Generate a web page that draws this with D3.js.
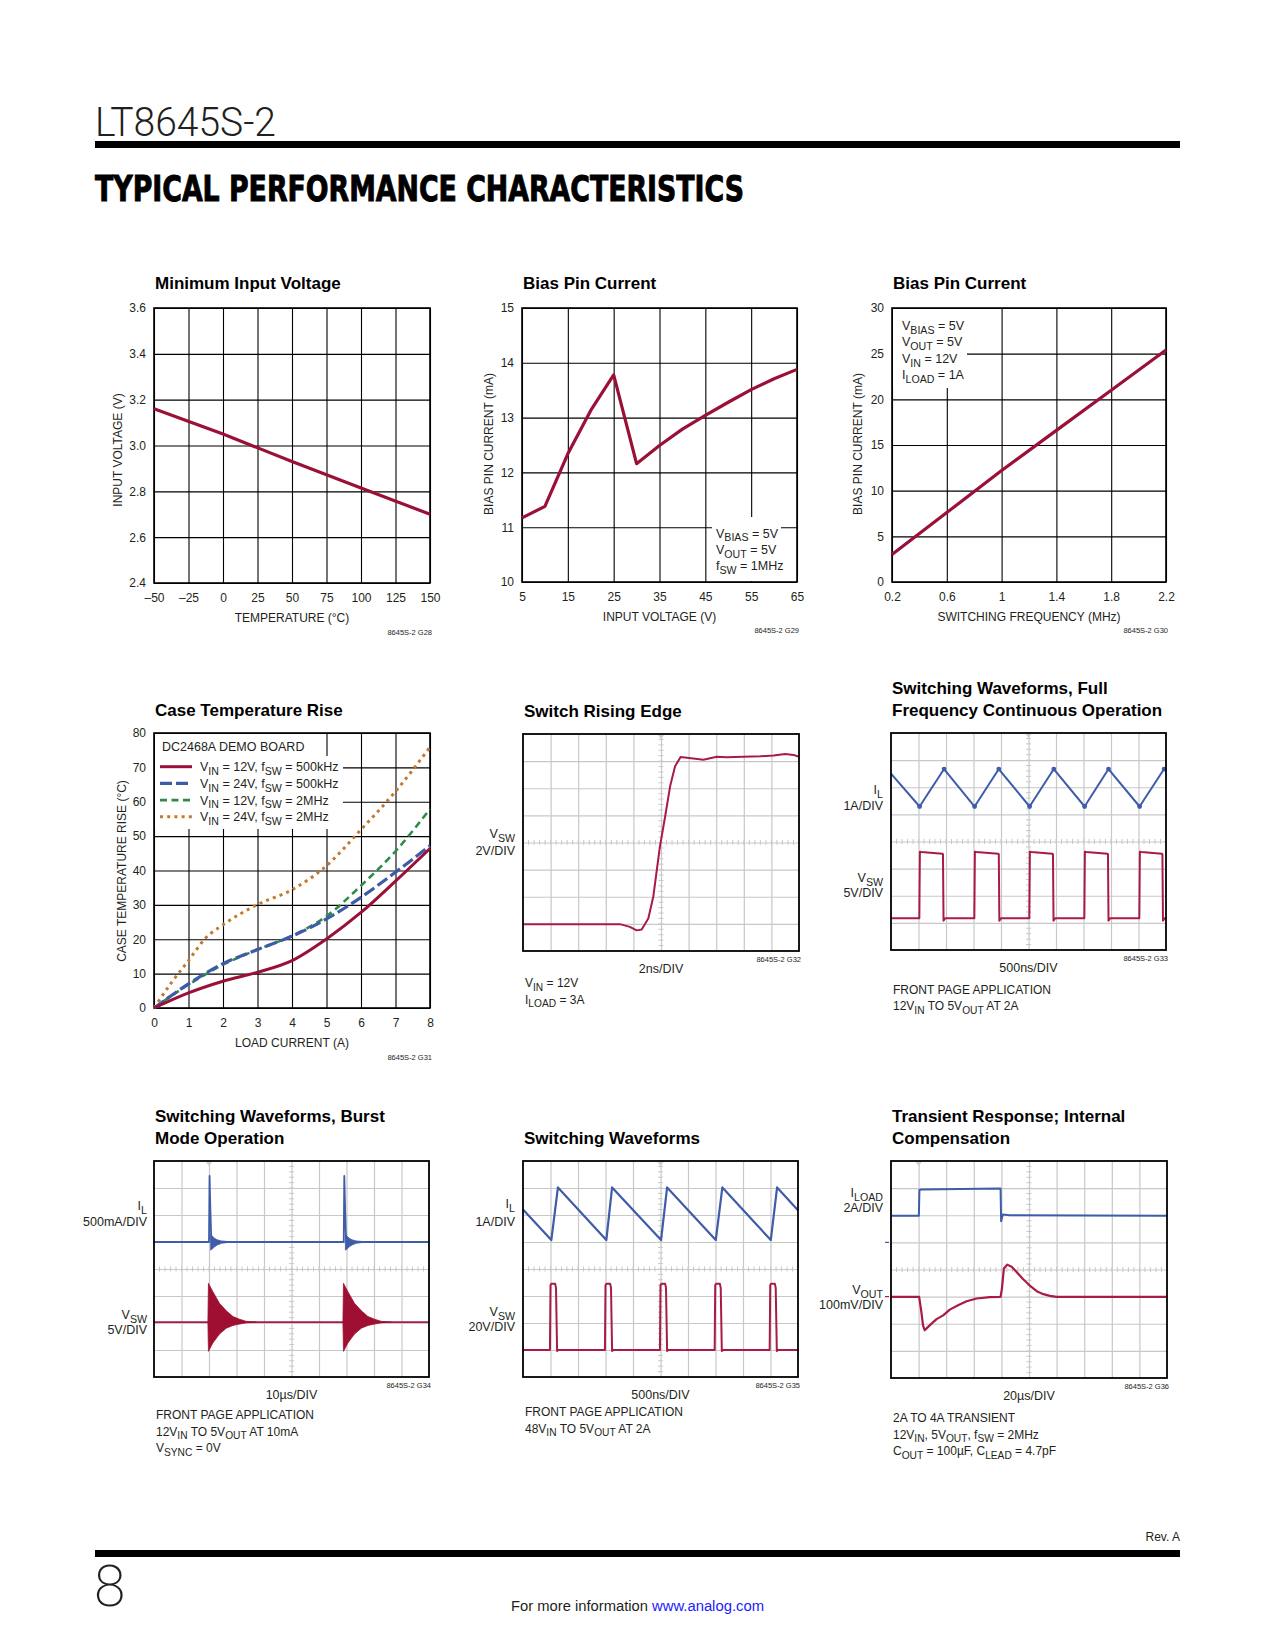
<!DOCTYPE html>
<html><head><meta charset="utf-8">
<script src="https://cdn.jsdelivr.net/npm/d3@7"></script>
<style>body{margin:0;background:#fff}svg{display:block}</style>
</head><body>
<script>
// ================= DATA =================
// Chart 1: Minimum Input Voltage
const c1TempC = [-50, 0, 50, 100, 150];
const c1MinVin = [3.16, 3.05, 2.93, 2.815, 2.70];
const c1XTicks = [-50, -25, 0, 25, 50, 75, 100, 125, 150];
const c1YTicks = [2.4, 2.6, 2.8, 3.0, 3.2, 3.4, 3.6];
// Chart 2: Bias Pin Current vs input voltage
const c2Vin = [5, 10, 15, 20, 25, 30, 35, 40, 45, 50, 55, 60, 65];
const c2Ibias = [11.17, 11.38, 12.34, 13.13, 13.78, 12.16, 12.49, 12.79, 13.04, 13.28, 13.51, 13.71, 13.88];
const c2XTicks = [5, 15, 25, 35, 45, 55, 65];
const c2YTicks = [10, 11, 12, 13, 14, 15];
const c2Notes = ["V_{BIAS} = 5V", "V_{OUT} = 5V", "f_{SW} = 1MHz"];
// Chart 3: Bias Pin Current vs switching frequency
const c3Fsw = [0.2, 0.6, 1.0, 1.4, 1.8, 2.2];
const c3Ibias = [3.0, 7.6, 12.2, 16.6, 21.0, 25.4];
const c3XTicks = [0.2, 0.6, 1, 1.4, 1.8, 2.2];
const c3YTicks = [0, 5, 10, 15, 20, 25, 30];
const c3Notes = ["V_{BIAS} = 5V", "V_{OUT} = 5V", "V_{IN} = 12V", "I_{LOAD} = 1A"];
// Chart 4: Case Temperature Rise
const c4Load = [0, 1, 2, 3, 4, 5, 6, 7, 8];
const c4Red = [0, 4.4, 7.8, 10.4, 13.8, 20.1, 27.8, 36.9, 46.4];
const c4Blue = [0, 7.0, 12.9, 17.0, 20.9, 25.9, 32.2, 39.5, 47.2];
const c4Green = [0, 6.8, 12.6, 17.0, 21.0, 26.7, 35.6, 45.6, 57.9];
const c4LoadOrange = [0, 0.5, 1, 1.5, 2, 3, 4, 5, 6, 7, 8];
const c4Orange = [0, 7.3, 13.8, 20.4, 24.2, 30.1, 34.4, 41.4, 51.9, 63.0, 75.9];
const c4XTicks = [0, 1, 2, 3, 4, 5, 6, 7, 8];
const c4YTicks = [0, 10, 20, 30, 40, 50, 60, 70, 80];
const c4Labels = ["V_{IN} = 12V, f_{SW} = 500kHz", "V_{IN} = 24V, f_{SW} = 500kHz",
                  "V_{IN} = 12V, f_{SW} = 2MHz", "V_{IN} = 24V, f_{SW} = 2MHz"];
// Chart 5: Switch rising edge (divisions)
const c5T = [0, 3.51, 3.87, 4.12, 4.30, 4.54, 4.72, 4.96, 5.15, 5.33, 5.51, 5.71, 6.17, 6.54, 7.02, 7.38, 7.99, 8.6, 9.08, 9.5, 9.8, 10];
const c5V = [0.99, 0.99, 0.89, 0.76, 0.79, 1.20, 2.0, 3.85, 4.96, 6.07, 6.81, 7.15, 7.10, 7.05, 7.16, 7.14, 7.16, 7.18, 7.21, 7.26, 7.23, 7.16];
// Chart 6: full-frequency waveforms (divisions)
const c6IlT = [0, 1.04, 1.93, 3.04, 3.92, 5.04, 5.92, 7.04, 7.91, 9.04, 9.93, 10];
const c6IlV = [6.5, 5.29, 6.67, 5.29, 6.67, 5.29, 6.67, 5.29, 6.67, 5.29, 6.67, 6.59];
const c6SwT = [0, 1.03, 1.05, 1.10, 1.87, 1.89, 1.91, 1.97,
               3.03, 3.05, 3.10, 3.90, 3.92, 3.94, 4.00,
               5.03, 5.05, 5.10, 5.87, 5.89, 5.91, 5.97,
               7.03, 7.05, 7.10, 7.87, 7.89, 7.91, 7.97,
               9.03, 9.05, 9.10, 9.85, 9.87, 9.89, 9.95, 10];
const c6SwV = [1.17, 1.17, 3.62, 3.61, 3.55, 3.53, 1.08, 1.17,
               1.17, 3.62, 3.61, 3.55, 3.53, 1.08, 1.17,
               1.17, 3.62, 3.61, 3.55, 3.53, 1.08, 1.17,
               1.17, 3.62, 3.61, 3.55, 3.53, 1.08, 1.17,
               1.17, 3.62, 3.61, 3.55, 3.53, 1.08, 1.17, 1.17];
// Chart 7: Burst Mode waveforms (divisions)
const c7IlT = [0, 2.0, 2.02, 2.05, 2.08, 2.1, 2.9, 6.9, 6.92, 6.95, 6.98, 7.0, 7.8, 10];
const c7IlV = [5.0, 5.0, 7.45, 6.2, 5.2, 5.0, 5.0, 5.0, 7.45, 6.2, 5.2, 5.0, 5.0, 5.0];
const c7IlBursts = [2.0, 6.9];
const c7IlEnvDt = [0.06, 0.12, 0.2, 0.3, 0.45, 0.65, 0.9];
const c7IlEnvHi = [5.28, 5.22, 5.14, 5.08, 5.04, 5.02, 5.0];
const c7IlEnvLo = [4.70, 4.74, 4.82, 4.89, 4.95, 4.98, 5.0];
const c7SwT = [0, 10];
const c7SwV = [2.03, 2.03];
const c7SwBursts = [1.96, 6.87];
const c7SwEnvDt = [0, 0.02, 0.18, 0.42, 0.67, 0.91, 1.15, 1.4, 1.76];
const c7SwEnvHi = [2.03, 3.47, 3.16, 2.73, 2.45, 2.24, 2.14, 2.06, 2.03];
const c7SwEnvLo = [2.03, 0.95, 1.26, 1.59, 1.81, 1.91, 1.96, 2.01, 2.03];
// Chart 8: Switching waveforms 48V (divisions)
const c8IlT = [0, 1.03, 1.27, 3.03, 3.24, 5.02, 5.24, 7.01, 7.25, 9.01, 9.24, 10];
const c8IlV = [6.2, 5.07, 7.02, 5.07, 7.02, 5.07, 7.02, 5.07, 7.02, 5.07, 7.02, 6.18];
const c8SwT = [0, 0.98, 1.00, 1.03, 1.17, 1.20, 1.24, 1.29,
               2.98, 3.00, 3.03, 3.17, 3.20, 3.24, 3.29,
               4.98, 5.00, 5.03, 5.17, 5.20, 5.24, 5.29,
               6.97, 6.99, 7.02, 7.16, 7.19, 7.23, 7.28,
               8.97, 8.99, 9.02, 9.16, 9.19, 9.23, 9.28, 10];
const c8SwV = [1.0, 1.0, 3.40, 3.45, 3.45, 3.30, 0.96, 1.0,
               1.0, 3.40, 3.45, 3.45, 3.30, 0.96, 1.0,
               1.0, 3.40, 3.45, 3.45, 3.30, 0.96, 1.0,
               1.0, 3.40, 3.45, 3.45, 3.30, 0.96, 1.0,
               1.0, 3.40, 3.45, 3.45, 3.30, 0.96, 1.0, 1.0];
// Chart 9: Transient response (divisions)
const c9IT = [0, 1.01, 1.03, 1.1, 3.95, 3.97, 3.99, 4.05, 4.3, 10];
const c9IV = [5.98, 5.98, 6.93, 6.95, 6.99, 6.99, 5.78, 6.03, 6.0, 5.98];
const c9VT = [0, 1.02, 1.10, 1.16, 1.22, 1.28, 1.40, 1.65, 1.89, 2.13, 2.43, 2.74, 3.10, 3.58, 3.97,
              4.02, 4.09, 4.21, 4.37, 4.55, 4.79, 5.04, 5.28, 5.52, 5.76, 6.0, 10];
const c9VV = [2.99, 2.99, 2.44, 1.94, 1.76, 1.82, 1.94, 2.17, 2.31, 2.52, 2.68, 2.83, 2.93, 2.98, 2.99,
              3.30, 4.04, 4.18, 4.10, 3.91, 3.64, 3.40, 3.20, 3.09, 3.03, 2.99, 2.99];

// ================= DRAWING =================
const F = "'Liberation Sans', Arial, Helvetica, sans-serif";
const RED = '#9b1037', SRED = '#a81c44', SBLUE = '#3e5ca8';
const svg = d3.select('body').append('svg').attr('width', 1275).attr('height', 1650)
  .style('background', '#fff');

function rich(t, s, fs) {
  let pending = 0;
  s.split(/(_\{[^}]*\})/).forEach(p => {
    if (!p) return;
    if (p.startsWith('_{')) {
      t.append('tspan').attr('dy', fs * 0.3 + pending).attr('font-size', fs * 0.85).text(p.slice(2, -1));
      pending = -fs * 0.3;
    } else {
      const ts = t.append('tspan').text(p);
      if (pending) ts.attr('dy', pending);
      pending = 0;
    }
  });
  return t;
}
function txt(x, y, s, o = {}) {
  const fs = o.size || 12;
  const t = svg.append('text').attr('x', x).attr('y', y).attr('font-family', o.family || F)
    .attr('font-size', fs).attr('fill', o.fill || '#231f20')
    .attr('font-weight', o.weight || 400).attr('text-anchor', o.anchor || 'start');
  rich(t, s, fs);
  return t;
}

// ---- page header/footer ----
svg.append('text').attr('x', 95).attr('y', 136).attr('font-family', "Roboto, 'Liberation Sans', sans-serif")
  .attr('font-weight', 300).attr('font-size', 40).attr('textLength', 181).attr('lengthAdjust', 'spacingAndGlyphs')
  .attr('fill', '#231f20').text('LT8645S-2');
svg.append('rect').attr('x', 95).attr('y', 141).attr('width', 1085).attr('height', 7).attr('fill', '#000');
svg.append('text').attr('x', 95).attr('y', 201).attr('font-family', "'DejaVu Sans', 'Liberation Sans', sans-serif")
  .attr('font-weight', 700).attr('font-size', 36).attr('textLength', 649).attr('lengthAdjust', 'spacingAndGlyphs')
  .attr('fill', '#000').attr('stroke', '#000').attr('stroke-width', 1).text('TYPICAL PERFORMANCE CHARACTERISTICS');
txt(1180, 1541, 'Rev. A', {size: 12, anchor: 'end'});
svg.append('rect').attr('x', 95).attr('y', 1550).attr('width', 1085).attr('height', 7).attr('fill', '#000');
svg.append('text').attr('x', 94).attr('y', 1606).attr('font-family', "Roboto, 'Liberation Sans', sans-serif")
  .attr('font-weight', 200).attr('font-size', 57).attr('fill', '#231f20').text('8');
svg.append('text').attr('x', 511).attr('y', 1611).attr('font-family', F).attr('font-size', 15.5)
  .attr('textLength', 137).attr('lengthAdjust', 'spacingAndGlyphs').attr('fill', '#231f20').text('For more information');
svg.append('text').attr('x', 652).attr('y', 1611).attr('font-family', F).attr('font-size', 15.5)
  .attr('textLength', 112).attr('lengthAdjust', 'spacingAndGlyphs').attr('fill', '#1a1aff').text('www.analog.com');

// ---- XY line chart helper ----
function xyChart(c) {
  const g = svg.append('g').attr('transform', `translate(${c.left},${c.top})`);
  const x = d3.scaleLinear().domain(c.xDomain).range([0, c.w]);
  const y = d3.scaleLinear().domain(c.yDomain).range([c.h, 0]);
  const ax = g.append('g').attr('transform', `translate(0,${c.h})`)
    .call(d3.axisBottom(x).tickValues(c.xTicks).tickFormat(c.xFmt).tickSize(-c.h).tickSizeOuter(0).tickPadding(10));
  const ay = g.append('g')
    .call(d3.axisLeft(y).tickValues(c.yTicks).tickFormat(c.yFmt).tickSize(-c.w).tickSizeOuter(0).tickPadding(8));
  [ax, ay].forEach(a => {
    a.attr('font-family', F).attr('font-size', 12);
    a.select('.domain').remove();
    a.selectAll('line').attr('stroke', '#000').attr('stroke-width', 1.1);
    a.selectAll('text').attr('fill', '#231f20');
  });
  (c.boxes || []).forEach(b => g.append('rect').attr('x', b[0] - c.left).attr('y', b[1] - c.top)
    .attr('width', b[2] - b[0]).attr('height', b[3] - b[1]).attr('fill', '#fff'));
  g.append('rect').attr('width', c.w).attr('height', c.h).attr('fill', 'none').attr('stroke', '#000').attr('stroke-width', 1.6);
  txt(c.left + 1, c.titleY, c.title, {size: 17, weight: 700, fill: '#000'});
  txt(c.left + c.w / 2, c.top + c.h + 39, c.xTitle, {size: 12, anchor: 'middle'});
  svg.append('text').attr('transform', `translate(${c.yTitleX},${c.yTitleY}) rotate(-90)`)
    .attr('font-family', F).attr('font-size', 12).attr('fill', '#231f20').attr('text-anchor', 'middle').text(c.yTitle);
  txt(c.left + c.w + 2, c.top + c.h + c.codeDy, c.code, {size: 7.5, anchor: 'end'});
  return {g, x, y};
}
const fmtMinus = d => d < 0 ? '\u2013' + Math.abs(d) : String(d);

// Chart 1
{
  const {g, x, y} = xyChart({left: 154, top: 308, w: 276, h: 275, xDomain: [-50, 150], yDomain: [2.4, 3.6],
    xTicks: c1XTicks, yTicks: c1YTicks, xFmt: fmtMinus, yFmt: d3.format('.1f'),
    title: 'Minimum Input Voltage', titleY: 289, xTitle: 'TEMPERATURE (°C)', yTitle: 'INPUT VOLTAGE (V)',
    yTitleX: 121.5, yTitleY: 450, code: '8645S-2 G28', codeDy: 52});
  g.append('path').datum(c1TempC.map((t, i) => [t, c1MinVin[i]]))
    .attr('d', d3.line().x(d => x(d[0])).y(d => y(d[1]))).attr('fill', 'none').attr('stroke', RED).attr('stroke-width', 3.2);
}
// Chart 2
{
  const {g, x, y} = xyChart({left: 522, top: 308, w: 275, h: 274, xDomain: [5, 65], yDomain: [10, 15],
    xTicks: c2XTicks, yTicks: c2YTicks, xFmt: String, yFmt: String,
    boxes: [[712, 517, 781, 581]],
    title: 'Bias Pin Current', titleY: 289, xTitle: 'INPUT VOLTAGE (V)', yTitle: 'BIAS PIN CURRENT (mA)',
    yTitleX: 493, yTitleY: 444, code: '8645S-2 G29', codeDy: 51});
  g.append('path').datum(c2Vin.map((t, i) => [t, c2Ibias[i]]))
    .attr('d', d3.line().x(d => x(d[0])).y(d => y(d[1]))).attr('fill', 'none').attr('stroke', RED)
    .attr('stroke-width', 3.2).attr('stroke-linejoin', 'round');
  c2Notes.forEach((s, i) => txt(716, 537.5 + i * 16.3, s, {size: 12.5}));
}
// Chart 3
{
  const {g, x, y} = xyChart({left: 892, top: 308, w: 274, h: 274, xDomain: [0.2, 2.2], yDomain: [0, 30],
    xTicks: c3XTicks, yTicks: c3YTicks, xFmt: String, yFmt: String,
    boxes: [[893, 309, 967, 388]],
    title: 'Bias Pin Current', titleY: 289, xTitle: 'SWITCHING FREQUENCY (MHz)', yTitle: 'BIAS PIN CURRENT (mA)',
    yTitleX: 862, yTitleY: 444, code: '8645S-2 G30', codeDy: 51});
  g.append('path').datum(c3Fsw.map((t, i) => [t, c3Ibias[i]]))
    .attr('d', d3.line().x(d => x(d[0])).y(d => y(d[1]))).attr('fill', 'none').attr('stroke', RED).attr('stroke-width', 3.2);
  c3Notes.forEach((s, i) => txt(902, 330 + i * 16.4, s, {size: 12.5}));
}
// Chart 4
{
  const {g, x, y} = xyChart({left: 154, top: 733, w: 276, h: 275, xDomain: [0, 8], yDomain: [0, 80],
    xTicks: c4XTicks, yTicks: c4YTicks, xFmt: String, yFmt: String,
    boxes: [[155, 734, 325, 756], [155, 756, 343, 829]],
    title: 'Case Temperature Rise', titleY: 716, xTitle: 'LOAD CURRENT (A)', yTitle: 'CASE TEMPERATURE RISE (°C)',
    yTitleX: 125.5, yTitleY: 871, code: '8645S-2 G31', codeDy: 52});
  const series = [
    {xs: c4Load, ys: c4Red, color: RED, w: 3, dash: null},
    {xs: c4Load, ys: c4Blue, color: '#3d5ba9', w: 3.2, dash: '12,4'},
    {xs: c4Load, ys: c4Green, color: '#2e8b46', w: 2.6, dash: '7,4.5'},
    {xs: c4LoadOrange, ys: c4Orange, color: '#c4782f', w: 3, dash: '3,4.2'}
  ];
  const line = d3.line().x(d => x(d[0])).y(d => y(d[1])).curve(d3.curveMonotoneX);
  [3, 2, 1, 0].forEach(k => {
    const s = series[k];
    g.append('path').datum(s.xs.map((t, i) => [t, s.ys[i]])).attr('d', line).attr('fill', 'none')
      .attr('stroke', s.color).attr('stroke-width', s.w).attr('stroke-dasharray', s.dash);
  });
  txt(162, 751, 'DC2468A DEMO BOARD', {size: 12.5});
  series.forEach((s, i) => {
    const yy = 766.7 + i * 16.7;
    svg.append('line').attr('x1', 160).attr('x2', 192).attr('y1', yy).attr('y2', yy)
      .attr('stroke', s.color).attr('stroke-width', s.w).attr('stroke-dasharray', s.dash);
    txt(200, yy + 4.5, c4Labels[i], {size: 12.5});
  });
}

// ---- Scope helper ----
function scope(c) {
  const g = svg.append('g').attr('transform', `translate(${c.left},${c.top})`);
  const x = d3.scaleLinear().domain([0, 10]).range([0, c.w]);
  const y = d3.scaleLinear().domain([0, 8]).range([c.h, 0]);
  const gx = g.append('g').attr('transform', `translate(0,${c.h})`)
    .call(d3.axisBottom(x).tickValues(d3.range(1, 10)).tickSize(-c.h).tickSizeOuter(0).tickFormat(''));
  const gy = g.append('g').call(d3.axisLeft(y).tickValues(d3.range(1, 8)).tickSize(-c.w).tickSizeOuter(0).tickFormat(''));
  [gx, gy].forEach(a => { a.select('.domain').remove(); a.selectAll('line').attr('stroke', '#c8c8c8').attr('stroke-width', 1.2); });
  g.append('g').selectAll('line').data(d3.range(1, 50).map(i => i / 5)).join('line')
    .attr('x1', d => x(d)).attr('x2', d => x(d)).attr('y1', y(4) - 2.5).attr('y2', y(4) + 2.5)
    .attr('stroke', '#c8c8c8').attr('stroke-width', 1);
  g.append('g').selectAll('line').data(d3.range(1, 40).map(i => i / 5)).join('line')
    .attr('y1', d => y(d)).attr('y2', d => y(d)).attr('x1', x(5) - 2.5).attr('x2', x(5) + 2.5)
    .attr('stroke', '#c8c8c8').attr('stroke-width', 1);
  g.append('path').attr('d', `M${x(c.trig) - 3},1L${x(c.trig) + 3},1L${x(c.trig)},5Z`).attr('fill', '#cfcfcf');
  c.title.forEach((s, i) => txt(c.left + 1, c.titleY + i * 22.5, s, {size: 17, weight: 700, fill: '#000'}));
  (c.labels || []).forEach(l => txt(c.labelX, l[0], l[1], {size: 12.5, anchor: 'end'}));
  txt(c.left + c.w / 2 + c.divDx, c.top + c.h + 21.5, c.div, {size: 12.5, anchor: 'middle'});
  txt(c.left + c.w + 2, c.top + c.h + 10.5, c.code, {size: 7.5, anchor: 'end'});
  (c.notes || []).forEach((s, i) => txt(c.left + 2, c.notesY + i * 16.5, s, {size: 12}));
  const trace = (ts, vs, color, w) => g.append('path').datum(ts.map((t, i) => [t, vs[i]]))
    .attr('d', d3.line().x(d => x(d[0])).y(d => y(d[1]))).attr('fill', 'none').attr('stroke', color)
    .attr('stroke-width', w).attr('stroke-linejoin', 'round');
  const frame = () => g.append('rect').attr('width', c.w).attr('height', c.h).attr('fill', 'none')
    .attr('stroke', '#000').attr('stroke-width', 1.8);
  return {g, x, y, trace, frame};
}

// Chart 5
{
  const s = scope({left: 523, top: 734, w: 276, h: 217, trig: 5, title: ['Switch Rising Edge'], titleY: 716.5,
    labelX: 515, labels: [[838, 'V_{SW}'], [855, '2V/DIV']], div: '2ns/DIV', divDx: 0, code: '8645S-2 G32',
    notes: ['V_{IN} = 12V', 'I_{LOAD} = 3A'], notesY: 987});
  s.trace(c5T, c5V, SRED, 2);
  s.frame();
}
// Chart 6
{
  const s = scope({left: 891, top: 733, w: 275, h: 217, trig: 5, title: ['Switching Waveforms, Full', 'Frequency Continuous Operation'],
    titleY: 693.5, labelX: 883, labels: [[794, 'I_{L}'], [810, '1A/DIV'], [882, 'V_{SW}'], [897, '5V/DIV']],
    div: '500ns/DIV', divDx: 0, code: '8645S-2 G33',
    notes: ['FRONT PAGE APPLICATION', '12V_{IN} TO 5V_{OUT} AT 2A'], notesY: 993.5});
  s.trace(c6SwT, c6SwV, SRED, 2);
  s.trace(c6IlT, c6IlV, SBLUE, 2);
  s.g.append('g').selectAll('circle').data(c6IlT.slice(1, -1).map((t, i) => [t, c6IlV[i + 1]])).join('circle')
    .attr('cx', d => s.x(d[0])).attr('cy', d => s.y(d[1])).attr('r', 2.4).attr('fill', SBLUE);
  s.frame();
}
// Chart 7
{
  const s = scope({left: 154, top: 1161, w: 275, h: 216, trig: 2, title: ['Switching Waveforms, Burst', 'Mode Operation'],
    titleY: 1121.5, labelX: 147, labels: [[1210, 'I_{L}'], [1225.5, '500mA/DIV'], [1319, 'V_{SW}'], [1334, '5V/DIV']],
    div: '10µs/DIV', divDx: 0, code: '8645S-2 G34',
    notes: ['FRONT PAGE APPLICATION', '12V_{IN} TO 5V_{OUT} AT 10mA', 'V_{SYNC} = 0V'], notesY: 1419});
  s.trace(c7SwT, c7SwV, SRED, 1.8);
  s.trace(c7IlT, c7IlV, SBLUE, 1.8);
  const swArea = d3.area().x(d => s.x(d[0])).y0(d => s.y(d[1])).y1(d => s.y(d[2]));
  c7SwBursts.forEach(b => s.g.append('path')
    .datum(c7SwEnvDt.map((dt, i) => [b + dt, c7SwEnvLo[i], c7SwEnvHi[i]])).attr('d', swArea)
    .attr('fill', '#9e0f32').attr('stroke', '#9e0f32').attr('stroke-width', 0.8));
  c7IlBursts.forEach(b => s.g.append('path')
    .datum(c7IlEnvDt.map((dt, i) => [b + dt, c7IlEnvLo[i], c7IlEnvHi[i]])).attr('d', swArea)
    .attr('fill', SBLUE).attr('stroke', SBLUE).attr('stroke-width', 0.8));
  s.frame();
}
// Chart 8
{
  const s = scope({left: 523, top: 1161, w: 275, h: 216, trig: 5, title: ['Switching Waveforms'],
    titleY: 1144, labelX: 515, labels: [[1208, 'I_{L}'], [1226, '1A/DIV'], [1316, 'V_{SW}'], [1331, '20V/DIV']],
    div: '500ns/DIV', divDx: 0, code: '8645S-2 G35',
    notes: ['FRONT PAGE APPLICATION', '48V_{IN} TO 5V_{OUT} AT 2A'], notesY: 1416});
  s.trace(c8SwT, c8SwV, SRED, 2);
  s.trace(c8IlT, c8IlV, SBLUE, 2.2);
  s.frame();
}
// Chart 9
{
  const s = scope({left: 891, top: 1161, w: 276, h: 217, trig: 1, title: ['Transient Response; Internal', 'Compensation'],
    titleY: 1121.5, labelX: 883, labels: [[1197, 'I_{LOAD}'], [1212, '2A/DIV'], [1294, 'V_{OUT}'], [1309, '100mV/DIV']],
    div: '20µs/DIV', divDx: 0, code: '8645S-2 G36',
    notes: ['2A TO 4A TRANSIENT', '12V_{IN}, 5V_{OUT}, f_{SW} = 2MHz', 'C_{OUT} = 100µF, C_{LEAD} = 4.7pF'], notesY: 1422});
  s.trace(c9IT, c9IV, SBLUE, 2);
  s.trace(c9VT, c9VV, SRED, 2.2);
  s.g.append('line').attr('x1', -6).attr('x2', -2).attr('y1', s.y(5)).attr('y2', s.y(5)).attr('stroke', SBLUE).attr('stroke-width', 1.2);
  s.g.append('line').attr('x1', -6).attr('x2', -2).attr('y1', s.y(3)).attr('y2', s.y(3)).attr('stroke', SRED).attr('stroke-width', 1.2);
  s.frame();
}
</script>
</body></html>
